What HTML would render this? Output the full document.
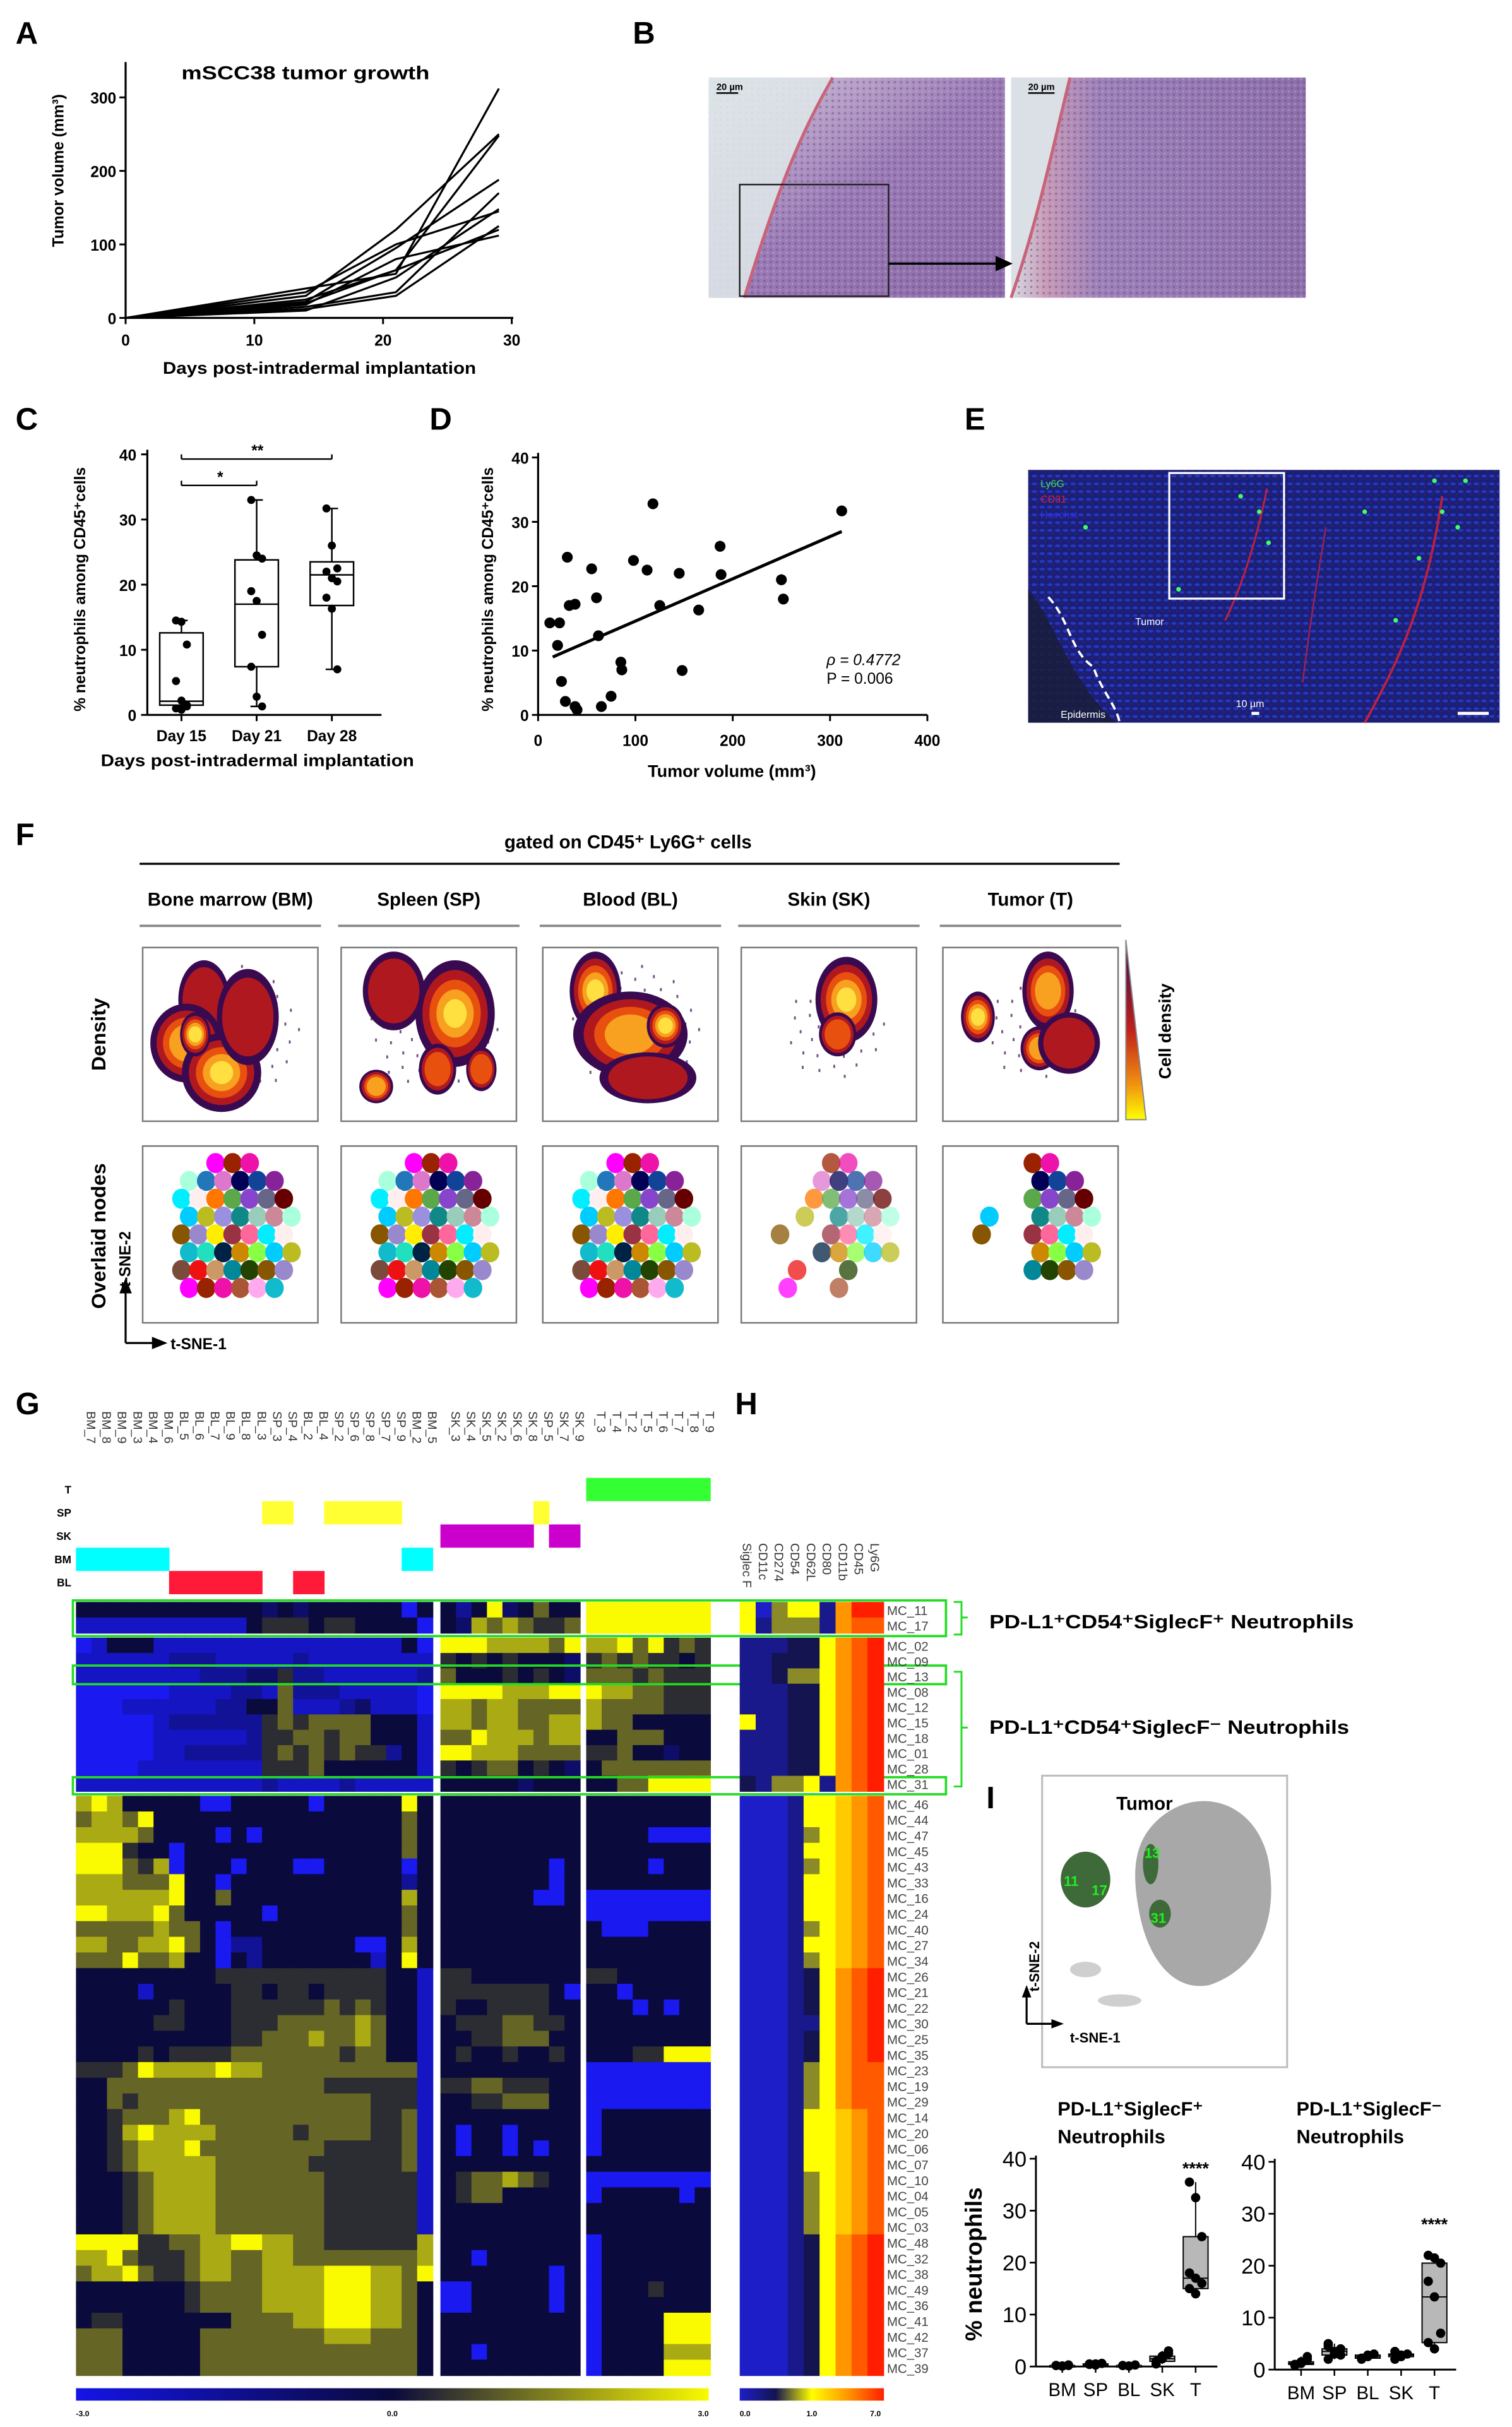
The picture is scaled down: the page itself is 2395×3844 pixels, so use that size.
<!DOCTYPE html>
<html><head><meta charset="utf-8"><title>Figure</title>
<style>
html,body{margin:0;padding:0;background:#fff;}
svg{display:block;font-family:"Liberation Sans",Arial,sans-serif;}
</style></head>
<body>
<svg id="fig" width="2395" height="3844" viewBox="0 0 975 1565" preserveAspectRatio="none" xmlns="http://www.w3.org/2000/svg">
<defs>
<linearGradient id="he1" x1="0" y1="0" x2="1" y2="1"><stop offset="0" stop-color="#dfe6ea"/><stop offset="0.25" stop-color="#b9a2c8"/><stop offset="0.5" stop-color="#9a7bb5"/><stop offset="1" stop-color="#8c6ca8"/></linearGradient>
<linearGradient id="he2" x1="0" y1="0" x2="1" y2="0"><stop offset="0" stop-color="#d9dfe4"/><stop offset="0.12" stop-color="#c79ab5"/><stop offset="0.3" stop-color="#9c80b8"/><stop offset="1" stop-color="#8d70aa"/></linearGradient>
<pattern id="tex" width="4" height="4" patternUnits="userSpaceOnUse"><circle cx="1" cy="1" r="0.7" fill="#5b3f82" opacity="0.5"/><circle cx="3" cy="3" r="0.6" fill="#c9b3dc" opacity="0.5"/></pattern>
<pattern id="texE" width="5" height="5" patternUnits="userSpaceOnUse"><ellipse cx="2" cy="2" rx="1.8" ry="0.9" fill="#2a3fd0" opacity="0.8"/><circle cx="4" cy="4" r="0.5" fill="#5a2030"/></pattern>
<linearGradient id="gbar" x1="0" x2="1"><stop offset="0" stop-color="#1414e6"/><stop offset="0.5" stop-color="#0a0a3c"/><stop offset="1" stop-color="#fafa00"/></linearGradient>
<linearGradient id="hbar" x1="0" x2="1"><stop offset="0" stop-color="#1e1ec8"/><stop offset="0.25" stop-color="#141450"/><stop offset="0.5" stop-color="#ffff00"/><stop offset="0.75" stop-color="#ff9600"/><stop offset="1" stop-color="#ff1e00"/></linearGradient>
<linearGradient id="dens" x1="0" y1="0" x2="0" y2="1"><stop offset="0" stop-color="#3a0a50"/><stop offset="0.5" stop-color="#c0201a"/><stop offset="0.8" stop-color="#f09010"/><stop offset="1" stop-color="#ffff00"/></linearGradient>
</defs>
<g id="root"></g>
</svg>
<script>
// ---------- DATA ----------
// Panel A
const daysA = [0, 14, 21, 29];
const tumorSeries = [
 [0, 40, 60, 312],[0, 30, 120, 250],[0, 25, 65, 248],[0, 22, 95, 188],[0, 15, 35, 170],
 [0, 10, 55, 148],[0, 35, 100, 145],[0, 12, 30, 125],[0, 20, 65, 120],[0, 18, 80, 112]];
const tickA_x = [0, 10, 20, 30];
const tickA_y = [0, 100, 200, 300];
// Panel C
const catsC = ["Day 15", "Day 21", "Day 28"];
const pointsC = [
 [14.5, 14.3, 10.8, 5.2, 2.2, 1.5, 1.0, 0.8, 1.3],
 [33, 24.5, 24, 19, 17.5, 12.3, 7.4, 2.8, 1.3],
 [31.7, 26, 22.5, 22, 21, 20.5, 18, 16.3, 7]];
const boxC = [[1.3, 1.5, 2.1, 12.6, 14.5],[1.3, 7.4, 17, 23.8, 33],[7, 16.8, 21.5, 23.5, 31.7]];
const ticksC = [0, 10, 20, 30, 40];
// Panel D
const volD = [12,20,22,24,28,30,32,38,38,40,55,60,62,65,75,85,86,98,112,118,125,145,148,165,187,188,250,252,312];
const pctD = [14.3,10.8,14.3,5.2,2.1,24.5,17,17.2,1.3,0.8,22.7,18.2,12.3,1.3,2.9,8.2,7,24,22.5,32.8,17,22,6.9,16.3,26.2,21.8,21,18,31.7];
const fitD = [[15, 9.0],[312, 28.5]];
const ticksDx = [0, 100, 200, 300, 400];
const ticksDy = [0, 10, 20, 30, 40];
// Panel G heatmap (0 = -3 blue, 4 = 0 navy, 8 = +3 yellow)
const colsG = ["BM_7","BM_8","BM_9","BM_3","BM_4","BM_6","BL_5","BL_6","BL_7","BL_9","BL_8","BL_3","SP_3","SP_4","BL_2","BL_4","SP_2","SP_6","SP_8","SP_7","SP_9","BM_2","BM_5",
 "SK_3","SK_4","SK_5","SK_2","SK_6","SK_8","SP_5","SK_7","SK_9","T_3","T_4","T_2","T_5","T_6","T_7","T_8","T_9"];
const rowsTop = ["MC_11","MC_17"];
const rowsMid = ["MC_02","MC_09","MC_13","MC_08","MC_12","MC_15","MC_18","MC_01","MC_28","MC_31"];
const rowsBot = ["MC_46","MC_44","MC_47","MC_45","MC_43","MC_33","MC_16","MC_24","MC_40","MC_27","MC_34","MC_26","MC_21","MC_22","MC_30","MC_25","MC_35","MC_23","MC_19","MC_29","MC_14","MC_20","MC_06","MC_07","MC_10","MC_04","MC_05","MC_03","MC_48","MC_32","MC_38","MC_49","MC_36","MC_41","MC_42","MC_37","MC_39"];
const valsTop = [
 "44444444444434344444404"+"424834644"+"88888888",
 "11111111111455545544440"+"437676556"+"88888888"];
const valsMid = [
 "01444111111111111111140"+"888777768"+"77868565",
 "11111122211111211111111"+"545454443"+"56565545",
 "11111111222335221111112"+"644454543"+"66656555",
 "00000011112216222111110"+"888877788"+"87766555",
 "00011111122446111231110"+"776776666"+"76666555",
 "00000122222256566664441"+"776776677"+"76644444",
 "00000111111255665664441"+"668777677"+"44666444",
 "00000112222256565655241"+"887776666"+"55644344",
 "00001111111155564444441"+"545664543"+"46666666",
 "11111111111121111211111"+"444443444"+"44668888"];
const valsBot = [
 "78744444004444404444484"+"444444444"+"44444444",
 "67768444444444444444464"+"444444444"+"44444444",
 "77776444404044444444464"+"444444444"+"44440000",
 "88854404444444444444464"+"444444444"+"44444444",
 "88865704440444004444404"+"444444404"+"44440444",
 "77766684404444444444424"+"444444404"+"44444444",
 "77777784464444444444474"+"444444004"+"00000000",
 "88777864444404444444464"+"444444444"+"00000000",
 "66666766404444444444464"+"444444444"+"40004444",
 "77667786402244444400474"+"444444444"+"44444444",
 "66686674404244444441484"+"444444444"+"44444444",
 "44444444455555555555441"+"554444444"+"55444444",
 "44441444445545545555441"+"555555540"+"44044444",
 "44444454445555556565441"+"544555544"+"44404044",
 "44444554445556666676441"+"455566554"+"44444444",
 "44444444445566676676441"+"445566644"+"44444444",
 "44445455556666666566441"+"454454454"+"44455888",
 "55568777787766666666661"+"444444444"+"00000000",
 "44666666666666665555551"+"556655544"+"00000000",
 "44656666666666666665551"+"445566644"+"00000000",
 "44566678666666666665561"+"444444444"+"04444444",
 "44578777766666566665561"+"404404444"+"04444444",
 "44567778666666665555561"+"404404044"+"04444444",
 "44567777766666655555561"+"444444444"+"44444444",
 "44456777766666665555551"+"456676544"+"00000000",
 "44456777766666665555551"+"456644444"+"04444404",
 "44456777766666665555551"+"444444444"+"44444444",
 "44456777766666665555551"+"444444444"+"44444444",
 "88885566778877665555557"+"444444444"+"04444444",
 "77865556776677666666667"+"440444444"+"04444444",
 "67786556776677778887768"+"444444404"+"04444444",
 "44444445666677778887764"+"004444404"+"04445444",
 "44444445666677778887764"+"004444404"+"04444444",
 "45544444446666778887764"+"444444444"+"04444888",
 "66644444666666667776664"+"444444444"+"04444888",
 "66644444666666666666664"+"440444444"+"04444777",
 "66644444666666666666664"+"444444444"+"04444888"];
// Panel H (0 blue, 2 navy, 4 yellow, 6 orange, 8 red)
const colsH = ["Siglec F","CD11c","CD274","CD54","CD62L","CD80","CD11b","CD45","Ly6G"];
const valsHTop = ["403441688","413331677"];
const valsHMid = ["111224678","112224678","112334678","111224678","111224678","411224678","111224678","111224678","111224678","213341678"];
const valsHBot = ["000144567","000144567","000134567","000144567","000134567","000144567","000144567","000144567","000134567","000144567",
 "000134567","000124678","000124678","000124678","000114678","000124678","000124678","000134677","000134677","000134677",
 "000144567","000144567","000144567","000144567","000134567","000134567","000134567","000134567","000124678","000124678",
 "000124678","000124678","000124678","000124678","000124678","000124678","000124678"];
// Panel I bar plots
const catsI = ["BM","SP","BL","SK","T"];
const ptsI1 = [[0.2,0.1,0.3,0.2,0.1,0.2],[0.5,0.3,0.6,0.4,0.5],[0.2,0.1,0.3,0.2],[1,2,3,0.5,1.5,2.5],[35.5,32.5,25,18,17,16,15,14]];
const ptsI2 = [[1,1.5,2,0.8,1.2,2.5],[2,3,4,5,3.5,2.8,4.5],[2,2.5,3,2.2,2.8],[2,2.5,3,3.5,2.8],[22,21.5,20.5,17,14,7,5.2,4]];
const ticksI = [0,10,20,30,40];

// ---------- helpers ----------
const NS = "http://www.w3.org/2000/svg";
const root = document.getElementById('root');
function mk(tag, attrs, parent, text){
  const e = document.createElementNS(NS, tag);
  for (const k in attrs) e.setAttribute(k, attrs[k]);
  if (text !== undefined) e.textContent = text;
  (parent || root).appendChild(e);
  return e;
}
function grp(name){
  const g = mk('g', {});
  
  
  return g;
}
function txt(p, x, y, s, size, opts){
  opts = opts || {};
  const a = {x:x, y:y, 'font-size':size, fill: opts.fill || '#000'};
  if (opts.bold !== false) a['font-weight'] = 'bold';
  if (opts.anchor) a['text-anchor'] = opts.anchor;
  if (opts.rot !== undefined) a.transform = 'rotate(' + opts.rot + ' ' + x + ' ' + y + ')';
  if (opts.len) { a.textLength = opts.len; a.lengthAdjust = 'spacingAndGlyphs'; }
  if (opts.style) a['font-style'] = opts.style;
  return mk('text', a, p, s);
}
function line(p, x1, y1, x2, y2, w, c){ return mk('line', {x1:x1, y1:y1, x2:x2, y2:y2, stroke:c || '#000', 'stroke-width':w || 1}, p); }

// ---------- panel letters ----------
const letters = [["A",10,28],["B",408,28],["C",10,277],["D",277,277],["E",622,277],["F",10,545],["G",10,912],["H",474,912],["I",636,1166]];
const lg = grp('panel-letters');
for (const L of letters){
  const t = txt(lg, L[1], L[2], L[0], 20);
  
  
}

// ---------- Panel A ----------
(function(){
  const g = grp('panel-a-tumor-growth-chart');
  const xA = d => 81 + d * (249/30);
  const yA = v => 205 - v * 0.474;
  line(g, 81, 40, 81, 205, 1.3); line(g, 81, 205, 331, 205, 1.3);
  for (const t of tickA_x){ line(g, xA(t), 205, xA(t), 209, 1.2); txt(g, xA(t), 223, String(t), 10, {anchor:'middle'}); }
  for (const t of tickA_y){ line(g, 77, yA(t), 81, yA(t), 1.2); txt(g, 75, yA(t)+4, String(t), 10, {anchor:'end'}); }
  tumorSeries.forEach((s, i) => {
    const pts = s.map((v, j) => xA(daysA[j]) + ',' + yA(v)).join(' ');
    const pl = mk('polyline', {points:pts, fill:'none', stroke:'#000', 'stroke-width':1.3}, g);
    
    
  });
  const t1 = txt(g, 197, 51, 'mSCC38 tumor growth', 12, {anchor:'middle', len:160});
   
  const t2 = txt(g, 206, 241, 'Days post-intradermal implantation', 11, {anchor:'middle', len:202});
   
  const t3 = txt(g, 41, 110, 'Tumor volume (mm³)', 10, {anchor:'middle', rot:-90});
   
})();

// ---------- Panel B ----------
(function(){
  const g = grp('panel-b-histology');
  const r1 = mk('rect', {x:457, y:50, width:191, height:142, fill:'url(#he1)'}, g);
   
  mk('rect', {x:457, y:50, width:191, height:142, fill:'url(#tex)'}, g);
  mk('path', {d:'M457,50 L537,50 C520,80 505,110 480,192 L457,192 Z', fill:'#dde4e8', opacity:0.9}, g);
  mk('path', {d:'M537,50 C520,80 505,110 480,192', fill:'none', stroke:'#c8647a', 'stroke-width':2}, g);
  const r2 = mk('rect', {x:652, y:50, width:190, height:142, fill:'url(#he2)'}, g);
   
  mk('rect', {x:652, y:50, width:190, height:142, fill:'url(#tex)'}, g);
  mk('path', {d:'M652,50 L690,50 C680,90 670,140 652,192 Z', fill:'#dae0e5'}, g);
  mk('path', {d:'M690,50 C680,90 670,140 652,192', fill:'none', stroke:'#c8647a', 'stroke-width':2}, g);
  mk('rect', {x:477, y:119, width:96, height:72, fill:'none', stroke:'#222', 'stroke-width':1}, g);
  line(g, 573, 170, 642, 170, 1.5);
  mk('polygon', {points:'642,165 653,170 642,175', fill:'#000'}, g);
  txt(g, 462, 58, '20 µm', 6); line(g, 462, 60, 476, 60, 1);
  txt(g, 663, 58, '20 µm', 6); line(g, 663, 60, 680, 60, 1);
})();

// ---------- Panel C ----------
(function(){
  const g = grp('panel-c-boxplot');
  const yC = v => 461 - v * 4.2;
  const xC = i => 117 + i * 48.5;
  line(g, 95, 290, 95, 461, 1.3); line(g, 95, 461, 246, 461, 1.3);
  for (const t of ticksC){ line(g, 91, yC(t), 95, yC(t), 1.2); txt(g, 88, yC(t)+4, String(t), 10, {anchor:'end'}); }
  catsC.forEach((c, i) => {
    line(g, xC(i), 461, xC(i), 465, 1.2);
    const l = txt(g, xC(i), 478, c, 10, {anchor:'middle'});
     
    const b = boxC[i];
    line(g, xC(i), yC(b[0]), xC(i), yC(b[4]), 1);
    line(g, xC(i)-4, yC(b[0]), xC(i)+4, yC(b[0]), 1); line(g, xC(i)-4, yC(b[4]), xC(i)+4, yC(b[4]), 1);
    const r = mk('rect', {x:xC(i)-14, y:yC(b[3]), width:28, height:yC(b[1])-yC(b[3]), fill:'#fff', stroke:'#000', 'stroke-width':1}, g);
     
    line(g, xC(i)-14, yC(b[2]), xC(i)+14, yC(b[2]), 1);
    pointsC[i].forEach((v, j) => {
      const p = mk('circle', {cx:xC(i) + ((j%3)-1)*3.5, cy:yC(v), r:2.6, fill:'#000'}, g);
       
    });
  });
  line(g, xC(0), 313, xC(1), 313, 1); line(g, xC(0), 310, xC(0), 313, 1); line(g, xC(1), 310, xC(1), 313, 1);
  txt(g, 142, 311, '*', 10, {anchor:'middle'});
  line(g, xC(0), 296, xC(2), 296, 1); line(g, xC(0), 293, xC(0), 296, 1); line(g, xC(2), 293, xC(2), 296, 1);
  txt(g, 166, 294, '**', 10, {anchor:'middle'});
  const t = txt(g, 166, 494, 'Days post-intradermal implantation', 11, {anchor:'middle', len:202});
   
  const y = txt(g, 55, 380, '% neutrophils among CD45⁺cells', 10, {anchor:'middle', rot:-90});
   
})();

// ---------- Panel D ----------
(function(){
  const g = grp('panel-d-scatter');
  const xD = v => 347 + v * (251/400);
  const yD = v => 461 - v * 4.15;
  line(g, 347, 292, 347, 461, 1.3); line(g, 347, 461, 598, 461, 1.3);
  for (const t of ticksDx){ line(g, xD(t), 461, xD(t), 465, 1.2); txt(g, xD(t), 481, String(t), 10, {anchor:'middle'}); }
  for (const t of ticksDy){ line(g, 343, yD(t), 347, yD(t), 1.2); txt(g, 341, yD(t)+4, String(t), 10, {anchor:'end'}); }
  volD.forEach((v, i) => {
    const p = mk('circle', {cx:xD(v), cy:yD(pctD[i]), r:3.5, fill:'#000'}, g);
     
  });
  const fl = line(g, xD(fitD[0][0]), yD(fitD[0][1]), xD(fitD[1][0]), yD(fitD[1][1]), 2);
   
  txt(g, 533, 429, 'ρ = 0.4772', 10, {bold:false, style:'italic'});
  txt(g, 533, 441, 'P = 0.006', 10, {bold:false});
  const t = txt(g, 472, 501, 'Tumor volume (mm³)', 11, {anchor:'middle'});
   
  const y = txt(g, 318, 380, '% neutrophils among CD45⁺cells', 10, {anchor:'middle', rot:-90});
   
})();

// ---------- Panel E ----------
(function(){
  const g = grp('panel-e-immunofluorescence');
  const r = mk('rect', {x:663, y:303, width:304, height:163, fill:'#1a1f7a'}, g);
   
  mk('rect', {x:663, y:303, width:304, height:163, fill:'url(#texE)'}, g);
  mk('path', {d:'M663,380 C680,400 690,440 720,466 L663,466 Z', fill:'#1a1d3a', opacity:0.85}, g);
  mk('path', {d:'M676,385 C690,400 690,420 705,430 C710,445 720,455 722,466', fill:'none', stroke:'#fff', 'stroke-width':1.5, 'stroke-dasharray':'5,3'}, g);
  mk('path', {d:'M880,466 C900,430 920,390 930,320', fill:'none', stroke:'#c02040', 'stroke-width':1.5}, g);
  mk('path', {d:'M790,400 C800,380 810,350 817,315', fill:'none', stroke:'#c02040', 'stroke-width':1.2}, g);
  mk('path', {d:'M840,440 C845,400 850,370 855,340', fill:'none', stroke:'#a02050', 'stroke-width':1}, g);
  const gr = [[800,320],[812,330],[818,350],[925,310],[930,330],[940,340],[915,360],[945,310],[880,330],[700,340],[760,380],[900,400]];
  for (const p of gr) mk('circle', {cx:p[0], cy:p[1], r:1.5, fill:'#40ff60'}, g);
  mk('rect', {x:754, y:305, width:74, height:81, fill:'none', stroke:'#fff', 'stroke-width':1.3}, g);
  txt(g, 671, 314, 'Ly6G', 6.5, {fill:'#40e040', bold:false});
  txt(g, 671, 324, 'CD31', 6.5, {fill:'#e02020', bold:false});
  txt(g, 671, 334, 'Hoechst', 6.5, {fill:'#3030e0', bold:false});
  txt(g, 732, 403, 'Tumor', 6.5, {fill:'#fff', bold:false});
  txt(g, 684, 463, 'Epidermis', 6.5, {fill:'#fff', bold:false});
  txt(g, 797, 456, '10 µm', 6.5, {fill:'#fff', bold:false});
  mk('rect', {x:807, y:459, width:5, height:2, fill:'#fff'}, g);
  mk('rect', {x:940, y:459, width:20, height:2, fill:'#fff'}, g);
})();

// ---------- Panel F ----------
const tissuesF = ["Bone marrow (BM)","Spleen (SP)","Blood (BL)","Skin (SK)","Tumor (T)"];
const blobsF = [
 [[0.35,0.3,0.12,0.2,1],[0.25,0.55,0.18,0.2,3],[0.45,0.72,0.2,0.2,4],[0.6,0.4,0.15,0.25,1],[0.3,0.5,0.06,0.1,4]],
 [[0.65,0.38,0.2,0.28,4],[0.3,0.25,0.15,0.2,1],[0.2,0.8,0.07,0.07,3],[0.55,0.7,0.08,0.12,2],[0.8,0.7,0.06,0.1,2]],
 [[0.3,0.25,0.12,0.2,4],[0.5,0.5,0.3,0.22,3],[0.7,0.45,0.08,0.1,4],[0.6,0.75,0.25,0.12,1]],
 [[0.6,0.3,0.15,0.22,4],[0.55,0.5,0.08,0.1,2]],
 [[0.6,0.25,0.12,0.2,3],[0.2,0.4,0.07,0.12,4],[0.55,0.58,0.08,0.1,3],[0.72,0.55,0.15,0.15,1]]];
const nodeColorsF = ["#6a8a6a","#9b8fe0","#7a4a3a","#5aa84a","#20e0c0","#000055","#ffee00","#ff00ff","#118888","#ee1111","#8844cc","#002244","#114499","#993344","#992200","#99ccbb","#cc9966","#666688","#cc8800","#882299","#ff6699","#ee11aa","#cc8899","#008899","#660000","#88ff44","#0000ee","#00eeff","#aa5533","#aaffdd","#224400","#dd2222","#00ccff","#bbbbff","#ffeeee","#ffaaee","#2277bb","#885500","#229922","#bbbb22","#888888","#ff7700","#11bbcc","#dd77cc","#9988cc"];
(function(){
  const g = grp('panel-f-tsne');
  const tt = txt(g, 405, 547, 'gated on CD45⁺ Ly6G⁺ cells', 12, {anchor:'middle'});
   
  line(g, 90, 557, 722, 557, 1.3);
  const bx = [92, 220, 350, 478, 608];
  tissuesF.forEach((t, i) => {
    const cx = bx[i] + 56.5;
    const l = txt(g, cx, 584, t, 12, {anchor:'middle'});
     
    line(g, bx[i]-2, 597, bx[i]+115, 597, 1.5, '#888');
    const d = mk('rect', {x:bx[i], y:611, width:113, height:112, fill:'#fff', stroke:'#777', 'stroke-width':1}, g);
     
    const n = mk('rect', {x:bx[i], y:739, width:113, height:114, fill:'#fff', stroke:'#777', 'stroke-width':1}, g);
     
    const sparse = (i === 3 || i === 4) ? 0.6 : 1;
    for (let k = 0; k < 60 * sparse; k++){
      const a = k * 2.399, rr = Math.sqrt(k/60) * 42;
      mk('rect', {x:bx[i]+60+Math.cos(a)*rr, y:611+52+Math.sin(a)*rr, width:1.2, height:2, fill:'#3a0a50', opacity:0.7}, g);
    }
    const cols = ['#3a0a50','#b01820','#e85010','#f8a020','#ffe040'];
    for (const b of blobsF[i]){
      for (let lv = 0; lv <= b[4]; lv++){
        const f = 1 - lv * 0.2;
        mk('ellipse', {cx:bx[i]+b[0]*113, cy:611+b[1]*112, rx:b[2]*113*f+3, ry:b[3]*112*f+3, fill:cols[lv]}, g);
      }
    }
    let ci = 0;
    for (let r = 0; r < 8; r++){
      for (let c = 0; c < 7; c++){
        const nx = bx[i] + 25 + c * 11 + (r%2)*5, ny = 750 + r * 11.5;
        const dx = (nx - (bx[i]+58)) / 45, dy = (ny - 795) / 48;
        if (dx*dx + dy*dy > 1) continue;
        ci++;
        if (i === 3 && (c < 3 || r > 5) && (ci % 3 !== 0)) continue;
        if (i === 4 && (c < 3 || r > 6) && !(c === 0 && (r === 3 || r === 4))) continue;
        mk('ellipse', {cx:nx, cy:ny, rx:6, ry:6.5, fill:nodeColorsF[(ci*7 + r) % nodeColorsF.length], opacity:(i===3?0.75:1)}, g);
      }
    }
  });
  const rl1 = txt(g, 68, 667, 'Density', 13, {anchor:'middle', rot:-90});
   
  const rl2 = txt(g, 68, 797, 'Overlaid nodes', 13, {anchor:'middle', rot:-90});
   
  const cb = mk('polygon', {points:'726,606 739,722 726,722', fill:'url(#dens)', stroke:'#888', 'stroke-width':0.8}, g);
   
  const cd = txt(g, 755, 665, 'Cell density', 11, {anchor:'middle', rot:-90});
   
  line(g, 81, 866, 81, 832, 1.3); mk('polygon', {points:'77,834 81,824 85,834', fill:'#000'}, g);
  line(g, 81, 866, 100, 866, 1.3); mk('polygon', {points:'98,862 108,866 98,870', fill:'#000'}, g);
  txt(g, 110, 870, 't-SNE-1', 10); txt(g, 84, 812, 't-SNE-2', 10, {rot:-90, anchor:'middle'});
})();

// ---------- Panel G & H heatmaps ----------
function colG(v){
  const t = (v - 4) / 4;
  let c;
  if (t < 0){ const a = -t; c = [10 + a*15, 10 + a*15, 60 + a*180]; }
  else { const a = Math.pow(t, 1.4); c = [10 + a*240, 10 + a*240, 60 - a*60]; }
  return 'rgb(' + c.map(Math.round).join(',') + ')';
}
const stopsH = [[30,30,200],[20,20,80],[255,255,0],[255,150,0],[255,30,0]];
function colH(v){
  const p = v / 2, i = Math.min(3, Math.floor(p)), f = p - i;
  const a = stopsH[i], b = stopsH[i+1];
  return 'rgb(' + [0,1,2].map(k => Math.round(a[k] + (b[k]-a[k])*f)).join(',') + ')';
}
(function(){
  const g = grp('panel-g-heatmap');
  const h = grp('panel-h-heatmap');
  const colX = j => j < 23 ? 49 + j*10 : (j < 32 ? 284 + (j-23)*10 : 378 + (j-32)*10);
  colsG.forEach((c, j) => {
    const t = txt(g, colX(j)+7, 910, c, 8, {bold:false, rot:90, fill:'#333'});
     
  });
  const annot = [["T","#33ff33","T_"],["SP","#ffff33","SP_"],["SK","#cc00cc","SK_"],["BM","#00ffff","BM_"],["BL","#ff1a3a","BL_"]];
  annot.forEach((a, r) => {
    const y = 953 + r*15;
    const l = txt(g, 46, y+10, a[0], 7, {anchor:'end'});
     
    colsG.forEach((c, j) => {
      if (c.indexOf(a[2]) === 0){
        const rc = mk('rect', {x:colX(j), y:y, width:10.3, height:15, fill:a[1]}, g);
         
      }
    });
  });
  colsH.forEach((c, j) => {
    const t = txt(h, 479 + j*10.3, 995, c, 8, {bold:false, rot:90, fill:'#333'});
     
  });
  function drawGroup(names, valsG, valsH, y0, rh){
    names.forEach((nm, r) => {
      const y = y0 + r*rh;
      for (let j = 0; j < colsG.length; j++){
        const v = +valsG[r][j];
        const c = mk('rect', {x:colX(j), y:y, width:10.4, height:rh+0.4, fill:colG(v)}, g);
         
      }
      for (let j = 0; j < colsH.length; j++){
        const v = +valsH[r][j];
        const c = mk('rect', {x:477 + j*10.3, y:y, width:10.7, height:rh+0.4, fill:colH(v)}, h);
         
      }
      const l = txt(h, 572, y + rh*0.85, nm, 8.3, {bold:false, fill:'#444'});
       
    });
  }
  drawGroup(rowsTop, valsTop, valsHTop, 1033, 10);
  drawGroup(rowsMid, valsMid, valsHMid, 1056, 9.9);
  drawGroup(rowsBot, valsBot, valsHBot, 1158, 10.1);
  const boxes = [[1032,23],[1074,12],[1146,11]];
  boxes.forEach((b, i) => {
    const r = mk('rect', {x:47, y:b[0], width:563, height:b[1], fill:'none', stroke:'#22dd22', 'stroke-width':1.5}, g);
     
  });
  mk('path', {d:'M615,1033 L620,1033 L620,1043 L624,1043 L620,1043 L620,1054 L615,1054', fill:'none', stroke:'#22dd22', 'stroke-width':1.2}, g);
  mk('path', {d:'M615,1078 L620,1078 L620,1114 L624,1114 L620,1114 L620,1152 L615,1152', fill:'none', stroke:'#22dd22', 'stroke-width':1.2}, g);
  const a1 = txt(g, 638, 1050, 'PD-L1⁺CD54⁺SiglecF⁺ Neutrophils', 12.5, {len:235});
   
  const a2 = txt(g, 638, 1118, 'PD-L1⁺CD54⁺SiglecF⁻ Neutrophils', 12.5, {len:232});
   
  const c1 = mk('rect', {x:49, y:1540, width:408, height:8, fill:'url(#gbar)'}, g);
   
  txt(g, 49, 1558, '-3.0', 5); txt(g, 253, 1558, '0.0', 5, {anchor:'middle'}); txt(g, 457, 1558, '3.0', 5, {anchor:'end'});
  const c2 = mk('rect', {x:477, y:1540, width:93, height:8, fill:'url(#hbar)'}, h);
   
  txt(h, 477, 1558, '0.0', 5); txt(h, 520, 1558, '1.0', 5); txt(h, 568, 1558, '7.0', 5, {anchor:'end'});
})();

// ---------- Panel I ----------
(function(){
  const g = grp('panel-i-tsne-tumor');
  const r = mk('rect', {x:672, y:1145, width:158, height:188, fill:'#fff', stroke:'#bbb', 'stroke-width':1.2}, g);
   
  mk('path', {d:'M745,1175 C770,1150 810,1160 818,1200 C825,1240 810,1270 780,1280 C755,1285 740,1260 735,1235 C730,1210 730,1190 745,1175 Z', fill:'#a8a8a8'}, g);
  mk('ellipse', {cx:700, cy:1270, rx:10, ry:5, fill:'#cfcfcf'}, g);
  mk('ellipse', {cx:722, cy:1290, rx:14, ry:4, fill:'#cfcfcf'}, g);
  mk('ellipse', {cx:700, cy:1212, rx:16, ry:18, fill:'#3e6a3a'}, g);
  mk('ellipse', {cx:742, cy:1202, rx:5, ry:13, fill:'#3e6a3a'}, g);
  mk('ellipse', {cx:748, cy:1234, rx:7, ry:9, fill:'#3e6a3a'}, g);
  txt(g, 686, 1216, '11', 9, {fill:'#22ee22'}); txt(g, 704, 1222, '17', 9, {fill:'#22ee22'});
  txt(g, 738, 1198, '13', 9, {fill:'#22ee22'}); txt(g, 742, 1240, '31', 9, {fill:'#22ee22'});
  const t = txt(g, 738, 1167, 'Tumor', 12, {anchor:'middle'});
   
  line(g, 662, 1305, 662, 1285, 1.3); mk('polygon', {points:'659,1288 662,1280 665,1288', fill:'#000'}, g);
  line(g, 662, 1305, 680, 1305, 1.3); mk('polygon', {points:'678,1302 686,1305 678,1308', fill:'#000'}, g);
  txt(g, 690, 1317, 't-SNE-1', 9); txt(g, 670, 1268, 't-SNE-2', 9, {rot:-90, anchor:'middle'});
})();
function barPlot(name, pts, ax, yTop, yBot, catX0, title1, title2, starY){
  const g = grp(name);
  const yS = v => yBot - v * (yBot - yTop) / 40;
  const xS = i => catX0 + i * 21.5;
  line(g, ax, yTop - 2, ax, yBot, 1.2);
  line(g, ax, yBot, xS(4) + 14, yBot, 1.2);
  for (const t of ticksI){ line(g, ax-4, yS(t), ax, yS(t), 1.1); txt(g, ax-6, yS(t)+5, String(t), 14, {anchor:'end', bold:false}); }
  catsI.forEach((c, i) => {
    line(g, xS(i), yBot, xS(i), yBot+4, 1);
    const l = txt(g, xS(i), yBot + 19, c, 12, {anchor:'middle', bold:false});
     
    const s = pts[i].slice().sort((a, b) => a - b);
    const q = f => s[Math.min(s.length-1, Math.floor(f*(s.length-1)))];
    const q1 = q(0.25), md = q(0.5), q3 = q(0.75);
    const bx = mk('rect', {x:xS(i)-8, y:yS(q3), width:16, height:Math.max(1, yS(q1)-yS(q3)), fill:'#b8b8b8', stroke:'#000', 'stroke-width':0.8}, g);
     
    line(g, xS(i)-8, yS(md), xS(i)+8, yS(md), 0.8);
    line(g, xS(i), yS(s[s.length-1]), xS(i), yS(q3), 0.8); line(g, xS(i), yS(q1), xS(i), yS(s[0]), 0.8);
    pts[i].forEach((v, j) => {
      const p = mk('circle', {cx:xS(i) + ((j%3)-1)*4, cy:yS(v), r:3, fill:'#000'}, g);
       
    });
  });
  txt(g, xS(4), starY, '****', 11, {anchor:'middle'});
  txt(g, ax + 14, 1364, title1, 12.5); txt(g, ax + 14, 1382, title2, 12.5);
  return g;
}
barPlot('panel-i-siglecf-pos-plot', ptsI1, 668, 1392, 1526, 685, 'PD-L1⁺SiglecF⁺', 'Neutrophils', 1402);
barPlot('panel-i-siglecf-neg-plot', ptsI2, 822, 1394, 1528, 839, 'PD-L1⁺SiglecF⁻', 'Neutrophils', 1438);
(function(){
  const t = txt(root, 633, 1460, '% neutrophils', 15, {anchor:'middle', rot:-90});
   
})();
</script>
</body></html>
